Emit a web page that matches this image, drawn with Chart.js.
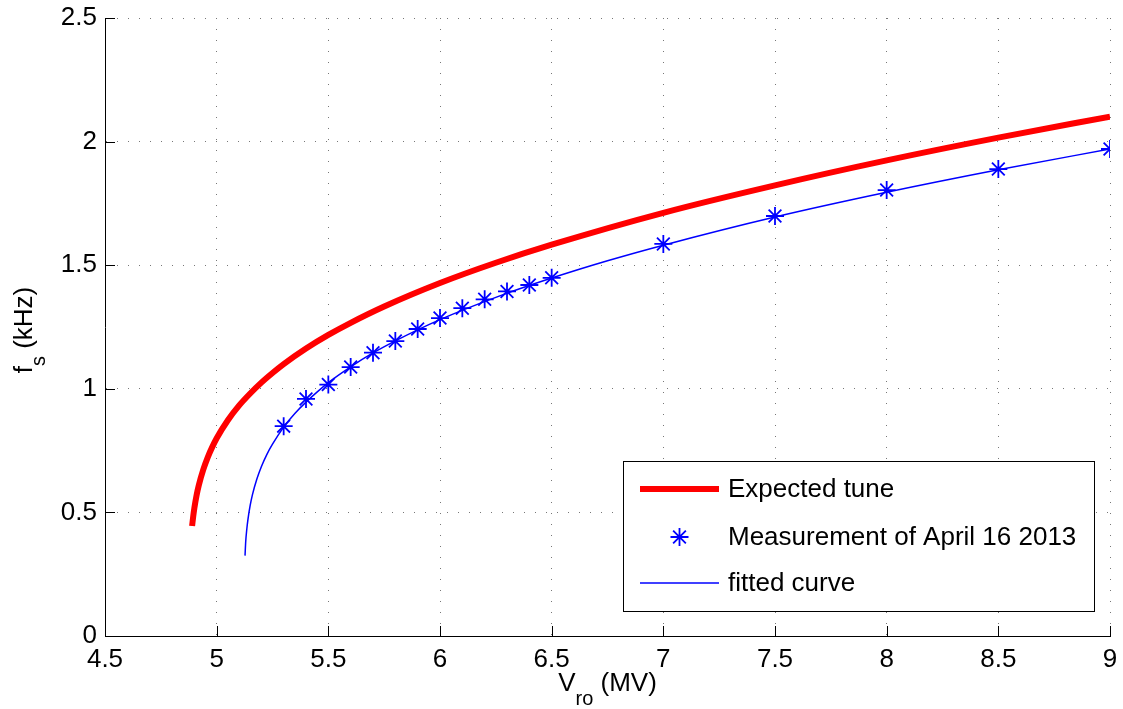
<!DOCTYPE html>
<html>
<head>
<meta charset="utf-8">
<script src="https://cdn.jsdelivr.net/npm/chart.js@4/dist/chart.umd.min.js"></script>
<style>
  html, body { margin: 0; padding: 0; background: #fff; }
</style>
</head>
<body>
<canvas id="tune-chart" width="1123" height="709"></canvas>
<script>
// values
var xTickValues = [4.5, 5, 5.5, 6, 6.5, 7, 7.5, 8, 8.5, 9];
var yTickValues = [0, 0.5, 1, 1.5, 2, 2.5];

var expectedV  = [4.89, 4.895, 4.90, 4.91, 4.92, 4.94, 4.96, 4.98, 5.0, 5.05, 5.1, 5.15, 5.2, 5.25, 5.3, 5.4, 5.5, 5.6, 5.75, 6.0, 6.25, 6.5, 7.0, 7.5, 8.0, 8.5, 9.0];
var expectedFs = [0.445, 0.484, 0.517, 0.569, 0.610, 0.673, 0.723, 0.764, 0.800, 0.873, 0.932, 0.981, 1.025, 1.064, 1.100, 1.163, 1.218, 1.267, 1.333, 1.428, 1.510, 1.583, 1.712, 1.823, 1.924, 2.016, 2.101];

var measuredV  = [5.3, 5.4, 5.5, 5.6, 5.7, 5.8, 5.9, 6.0, 6.1, 6.2, 6.3, 6.4, 6.5, 7.0, 7.5, 8.0, 8.5, 9.0];
var measuredFs = [0.849, 0.959, 1.017, 1.088, 1.146, 1.193, 1.242, 1.286, 1.326, 1.362, 1.394, 1.420, 1.449, 1.586, 1.699, 1.804, 1.889, 1.970];

var fittedV  = [5.127, 5.13, 5.135, 5.14, 5.15, 5.16, 5.18, 5.2, 5.225, 5.25, 5.3, 5.35, 5.4, 5.5, 5.6, 5.7, 5.8, 6.0, 6.25, 6.5, 6.75, 7.0, 7.5, 8.0, 8.5, 9.0];
var fittedFs = [0.325, 0.381, 0.433, 0.471, 0.528, 0.571, 0.635, 0.685, 0.735, 0.776, 0.845, 0.900, 0.946, 1.025, 1.089, 1.145, 1.194, 1.280, 1.370, 1.448, 1.518, 1.581, 1.695, 1.795, 1.886, 1.970];

var legendLabels = ["Expected tune", "Measurement of April 16 2013", "fitted curve"];

function toPoints(xs, ys) {
  return xs.map(function (v, i) { return { x: v, y: ys[i] }; });
}

var FONT = "'Liberation Sans', Arial, Helvetica, sans-serif";

// matlab-style extras: inward ticks, axis labels with subscripts, legend box
var matlabBits = {
  id: 'matlabBits',
  afterDraw: function (chart) {
    var ctx = chart.ctx, a = chart.chartArea;
    var xs = chart.scales.x, ys = chart.scales.y;
    ctx.save();

    // inward tick marks
    ctx.strokeStyle = '#000';
    ctx.lineWidth = 1;
    ctx.beginPath();
    xs.ticks.forEach(function (t) {
      var px = Math.round(xs.getPixelForValue(t.value)) + 0.5;
      ctx.moveTo(px, a.bottom);
      ctx.lineTo(px, a.bottom - 10);
    });
    ys.ticks.forEach(function (t) {
      var py = Math.round(ys.getPixelForValue(t.value)) + 0.5;
      ctx.moveTo(a.left, py);
      ctx.lineTo(a.left + 10, py);
    });
    ctx.stroke();

    // x axis label: V_ro (MV)
    ctx.fillStyle = '#000';
    ctx.textBaseline = 'alphabetic';
    ctx.textAlign = 'left';
    var big = '26px ' + FONT, small = '20px ' + FONT;
    ctx.font = big;
    var wV = ctx.measureText('V').width, wRest = ctx.measureText(' (MV)').width;
    ctx.font = small;
    var wSub = ctx.measureText('ro').width;
    var cx = (a.left + a.right) / 2;
    var sx = cx - (wV + wSub + wRest) / 2;
    var base = 691;
    ctx.font = big;  ctx.fillText('V', sx, base);
    ctx.font = small; ctx.fillText('ro', sx + wV, base + 14);
    ctx.font = big;  ctx.fillText(' (MV)', sx + wV + wSub, base);

    // y axis label: f_s (kHz)
    ctx.save();
    ctx.translate(32, (a.top + a.bottom) / 2 + 3);
    ctx.rotate(-Math.PI / 2);
    ctx.font = big;
    var wf = ctx.measureText('f').width, wk = ctx.measureText(' (kHz)').width;
    ctx.font = small;
    var ws = ctx.measureText('s').width;
    var sy = -(wf + ws + wk) / 2;
    ctx.font = big;  ctx.fillText('f', sy, 0);
    ctx.font = small; ctx.fillText('s', sy + wf, 13);
    ctx.font = big;  ctx.fillText(' (kHz)', sy + wf + ws, 0);
    ctx.restore();

    // legend
    var bx = a.right - 487, by = a.bottom - 175, bw = 471, bh = 150;
    ctx.fillStyle = '#fff';
    ctx.fillRect(bx, by, bw, bh);
    ctx.strokeStyle = '#000';
    ctx.lineWidth = 1;
    ctx.strokeRect(bx + 0.5, by + 0.5, bw, bh);

    var lx0 = bx + 17, lx1 = bx + 96, tx = bx + 105;
    var rows = [by + 28, by + 76, by + 122];

    ctx.lineCap = 'butt';
    ctx.strokeStyle = '#ff0000';
    ctx.lineWidth = 6;
    ctx.beginPath(); ctx.moveTo(lx0, rows[0]); ctx.lineTo(lx1, rows[0]); ctx.stroke();

    var mx = (lx0 + lx1) / 2, my = rows[1], r = 9, d = r * Math.SQRT1_2;
    ctx.strokeStyle = '#0000ff';
    ctx.lineWidth = 1.8;
    ctx.beginPath();
    ctx.moveTo(mx - r, my); ctx.lineTo(mx + r, my);
    ctx.moveTo(mx, my - r); ctx.lineTo(mx, my + r);
    ctx.moveTo(mx - d, my - d); ctx.lineTo(mx + d, my + d);
    ctx.moveTo(mx - d, my + d); ctx.lineTo(mx + d, my - d);
    ctx.stroke();

    ctx.lineWidth = 1.5;
    ctx.beginPath(); ctx.moveTo(lx0, rows[2]); ctx.lineTo(lx1, rows[2]); ctx.stroke();

    ctx.fillStyle = '#000';
    ctx.font = big;
    legendLabels.forEach(function (txt, i) {
      ctx.fillText(txt, tx, rows[i] + 8);
    });

    ctx.restore();
  }
};

new Chart(document.getElementById('tune-chart'), {
  type: 'scatter',
  data: {
    datasets: [
      {
        label: legendLabels[1],
        data: toPoints(measuredV, measuredFs),
        showLine: false,
        pointStyle: 'star',
        pointRadius: 9,
        borderWidth: 1.8,
        borderColor: '#0000ff',
        backgroundColor: '#0000ff'
      },
      {
        label: legendLabels[2],
        data: toPoints(fittedV, fittedFs),
        showLine: true,
        pointRadius: 0,
        borderWidth: 1.5,
        borderColor: '#0000ff',
        cubicInterpolationMode: 'monotone'
      },
      {
        label: legendLabels[0],
        data: toPoints(expectedV, expectedFs),
        showLine: true,
        pointRadius: 0,
        borderWidth: 6,
        borderColor: '#ff0000',
        cubicInterpolationMode: 'monotone'
      }
    ]
  },
  options: {
    responsive: false,
    animation: false,
    layout: { padding: { top: 18, right: 13, left: 0, bottom: 0 } },
    plugins: {
      legend: { display: false },
      tooltip: { enabled: false }
    },
    scales: {
      x: {
        type: 'linear',
        min: 4.5,
        max: 9,
        afterBuildTicks: function (s) { s.ticks = xTickValues.map(function (v) { return { value: v }; }); },
        afterFit: function (s) { s.height = 73; s.paddingLeft = 0; s.paddingRight = 0; },
        ticks: {
          color: '#000',
          font: { family: FONT, size: 26 },
          padding: 8,
          maxRotation: 0,
          autoSkip: false,
          callback: function (v) { return String(v); }
        },
        grid: { color: '#777', lineWidth: 1, drawTicks: false },
        border: { display: true, color: '#000', width: 1, dash: [1, 10] }
      },
      y: {
        type: 'linear',
        min: 0,
        max: 2.5,
        afterBuildTicks: function (s) { s.ticks = yTickValues.map(function (v) { return { value: v }; }); },
        afterFit: function (s) { s.width = 105; s.paddingTop = 0; s.paddingBottom = 0; },
        ticks: {
          color: '#000',
          font: { family: FONT, size: 26 },
          padding: 8,
          autoSkip: false,
          callback: function (v) { return String(v); }
        },
        grid: { color: '#777', lineWidth: 1, drawTicks: false },
        border: { display: true, color: '#000', width: 1, dash: [1, 10] }
      }
    }
  },
  plugins: [matlabBits]
});
</script>
</body>
</html>
